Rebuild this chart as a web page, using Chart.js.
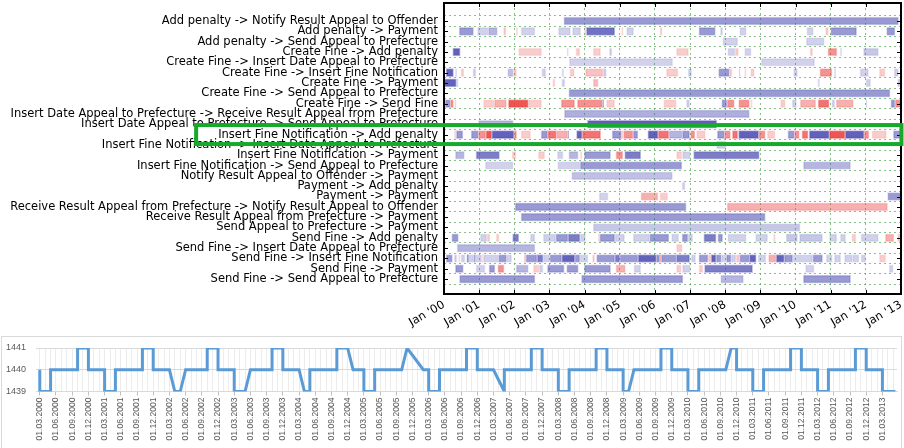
<!DOCTYPE html>
<html>
<head>
<meta charset="utf-8">
<script src="https://cdn.jsdelivr.net/npm/chart.js@4.4.0/dist/chart.umd.min.js"></script>
<style>
  html, body { margin: 0; padding: 0; background: #fff; }
  body { width: 904px; height: 448px; position: relative; overflow: hidden; }
  #timeline-box { position: absolute; left: 0; top: 0; width: 904px; height: 334px; }
  #minutes-box { position: absolute; left: 1px; top: 336px; width: 901px; height: 120px; border: 1px solid #d9d9d9; box-sizing: border-box; }
</style>
</head>
<body>
<div id="timeline-box"><canvas id="timeline-chart"></canvas></div>
<div id="minutes-box"><canvas id="minutes-chart"></canvas></div>
<script>
// Transition rows, top to bottom
const transitions = [
    'Add penalty -> Notify Result Appeal to Offender',
    'Add penalty -> Payment',
    'Add penalty -> Send Appeal to Prefecture',
    'Create Fine -> Add penalty',
    'Create Fine -> Insert Date Appeal to Prefecture',
    'Create Fine -> Insert Fine Notification',
    'Create Fine -> Payment',
    'Create Fine -> Send Appeal to Prefecture',
    'Create Fine -> Send Fine',
    'Insert Date Appeal to Prefecture -> Receive Result Appeal from Prefecture',
    'Insert Date Appeal to Prefecture -> Send Appeal to Prefecture',
    'Insert Fine Notification -> Add penalty',
    'Insert Fine Notification -> Insert Date Appeal to Prefecture',
    'Insert Fine Notification -> Payment',
    'Insert Fine Notification -> Send Appeal to Prefecture',
    'Notify Result Appeal to Offender -> Payment',
    'Payment -> Add penalty',
    'Payment -> Payment',
    'Receive Result Appeal from Prefecture -> Notify Result Appeal to Offender',
    'Receive Result Appeal from Prefecture -> Payment',
    'Send Appeal to Prefecture -> Payment',
    'Send Fine -> Add penalty',
    'Send Fine -> Insert Date Appeal to Prefecture',
    'Send Fine -> Insert Fine Notification',
    'Send Fine -> Payment',
    'Send Fine -> Send Appeal to Prefecture'
];
const highlightedTransition = 'Insert Fine Notification -> Add penalty';

// Per row: [from, to, level], times in years after Jan 2000.
// level > 0 is a blue span, level < 0 a red one, size 1..3 is the strength.
const transitionSpans = [
    [[3.41, 12.93, 2]],
    [[0.43, 0.84, 2], [0.95, 1.26, 1], [1.26, 1.52, 1.5], [1.69, 1.77, -1], [2.05, 2.10, -1], [2.19, 2.59, 1], [3.25, 3.60, 1], [3.65, 3.89, 1],
     [3.99, 4.05, -1], [4.05, 4.86, 2.7], [5.05, 5.10, -1], [5.19, 5.40, 1], [6.14, 6.21, -1], [7.25, 7.72, 2], [7.86, 7.93, 1], [8.41, 8.60, 1],
     [10.32, 10.51, 1], [10.85, 10.94, -1], [11.00, 11.74, 2], [12.59, 12.83, 2]],
    [[7.93, 8.36, 1], [10.30, 10.82, 1]],
    [[0.25, 0.46, 3], [2.12, 2.78, -1], [3.50, 3.54, 1], [3.75, 3.87, -1], [4.24, 4.46, -1], [4.70, 4.78, 1], [6.61, 6.96, -1], [8.07, 8.28, 1],
     [8.28, 8.38, -1], [8.55, 8.74, 1], [10.41, 10.49, -1], [10.92, 11.18, -2], [11.27, 11.32, 1], [11.93, 12.36, 1.2]],
    [[3.56, 6.51, 1], [9.02, 10.55, 1]],
    [[0.06, 0.27, 3], [0.32, 0.37, 1], [0.48, 0.57, -1], [0.82, 0.91, 1], [1.81, 1.97, 1.3], [1.97, 2.07, -1], [2.78, 2.90, 1], [3.35, 3.41, 1],
     [3.58, 3.71, -1], [4.02, 4.53, -1.2], [4.53, 4.62, 1], [6.32, 6.66, -1], [6.94, 7.05, 1], [7.81, 8.12, 2], [8.12, 8.20, -1], [8.39, 8.43, 1],
     [8.55, 8.60, -1], [8.72, 8.83, -1], [9.94, 10.06, 1], [10.69, 11.04, -2], [11.10, 11.15, 1], [11.83, 12.08, 1], [12.38, 12.55, -1], [12.80, 12.93, 1]],
    [[0.0, 0.35, 3], [0.35, 0.41, 1], [3.09, 3.16, -1], [3.35, 3.44, 1], [4.24, 4.39, -1.3], [10.63, 10.69, 1], [12.0, 12.14, 1], [12.90, 13.0, 1]],
    [[3.55, 12.69, 2]],
    [[0.03, 0.18, 2], [0.18, 0.27, -2], [0.30, 0.35, -1], [1.12, 1.43, -1], [1.43, 1.78, -1.5], [1.83, 2.40, -3], [2.40, 2.78, -1], [3.33, 3.72, -2],
     [3.79, 4.51, -2], [4.51, 4.55, 2], [4.62, 4.86, -1], [6.25, 6.61, -1], [6.89, 6.99, 1], [7.90, 8.05, 2], [8.05, 8.26, -2], [8.38, 8.69, -2],
     [8.72, 8.77, -1], [9.57, 9.71, -1], [9.90, 10.03, 1], [10.13, 10.58, -1.5], [10.64, 10.96, -2.5], [11.03, 11.12, 1], [11.15, 11.65, -1.5],
     [12.0, 12.03, 1], [12.71, 12.83, 2], [12.83, 13.0, -2]],
    [[3.42, 8.69, 1.6]],
    [[0.98, 1.97, 1.5], [4.08, 7.76, 3]],
    [[0.29, 0.35, -1], [0.35, 0.54, 2], [0.77, 0.98, 2], [0.98, 1.19, -2], [1.19, 1.36, -3], [1.36, 1.99, 3], [1.99, 2.07, -2], [2.19, 2.47, -1],
     [2.76, 2.95, 2], [2.95, 3.20, -2.5], [3.20, 3.52, -1.5], [3.52, 3.55, 2], [3.77, 3.93, 3], [3.93, 4.46, -2.5], [4.78, 5.05, 2], [5.05, 5.11, -1],
     [5.11, 5.38, -2], [5.38, 5.52, 2], [5.80, 6.09, 3], [6.09, 6.40, -2.5], [6.40, 6.78, 1.5], [6.78, 6.99, 2], [7.01, 7.14, -2], [7.18, 7.44, -1],
     [7.77, 7.98, 2], [7.98, 8.15, -2], [8.20, 8.36, -2.5], [8.38, 8.95, 3], [8.95, 9.14, -2], [9.19, 9.42, -1], [9.78, 9.97, 2], [9.97, 10.11, -2],
     [10.18, 10.36, -2.5], [10.39, 10.96, 3], [10.96, 11.41, -3], [11.41, 11.95, 3], [11.95, 12.09, -2], [12.17, 12.59, -1], [12.78, 13.0, 2]],
    [[6.96, 7.02, -1], [7.75, 8.03, 1]],
    [[0.32, 0.58, 1.5], [0.91, 1.58, 2.5], [1.93, 2.05, -1], [2.68, 2.87, -1], [3.22, 3.39, 1], [3.55, 3.82, 1.5], [3.87, 3.93, -1], [3.99, 4.74, 2],
     [4.89, 5.09, -2], [5.14, 5.60, 2.5], [6.61, 6.77, -1], [6.78, 7.01, 1], [7.10, 8.97, 2.5]],
    [[1.17, 1.97, 1], [3.23, 3.87, 1], [3.87, 6.77, 2], [10.22, 11.57, 1.5]],
    [[3.63, 6.50, 1.3]],
    [[6.77, 6.86, 1]],
    [[4.41, 4.67, 1], [5.60, 6.09, -1.5], [6.14, 6.37, -1], [12.62, 13.0, 2]],
    [[2.02, 6.89, 2], [8.05, 12.62, -1.5]],
    [[2.19, 9.14, 2]],
    [[4.24, 10.13, 1.2]],
    [[0.22, 0.41, 2], [1.03, 1.22, 1], [1.22, 1.31, -1], [1.48, 1.57, -1], [1.95, 2.13, 2.5], [2.45, 2.59, 1], [2.82, 3.18, 1], [3.18, 3.53, 2],
     [3.53, 3.87, 2.5], [3.87, 4.03, 1], [4.39, 4.43, -1], [4.43, 4.86, 2], [4.86, 5.14, 1], [5.38, 5.85, 1], [5.85, 6.40, 2], [6.47, 6.68, 1],
     [6.77, 6.94, 2], [6.94, 7.08, 1], [7.39, 7.74, 2.5], [7.79, 7.93, 2], [8.07, 8.60, 1], [8.86, 9.21, 1], [9.37, 9.43, -1], [9.73, 10.06, 1.2],
     [10.11, 10.77, 1.2], [10.96, 11.18, 1], [11.27, 11.43, 1], [11.60, 11.72, -1], [11.86, 12.36, 1], [12.55, 12.80, -1.5], [12.90, 13.0, -1]],
    [[0.37, 2.59, 1.5], [6.61, 6.78, -1]],
    [[0.06, 0.24, 2], [0.29, 0.37, 1], [0.41, 0.46, -1], [0.48, 0.60, 1], [0.65, 0.70, 3], [0.70, 0.84, 1], [0.84, 0.90, 2], [0.90, 1.07, 1],
     [1.07, 1.12, -1], [1.12, 1.55, 1], [1.55, 1.78, 2], [1.78, 1.93, 1], [2.28, 2.33, -1.5], [2.33, 2.65, 2], [2.65, 2.82, 2.5], [2.82, 3.01, 1],
     [3.01, 3.35, 2], [3.35, 3.72, 3], [3.72, 3.87, 2], [3.87, 4.10, 1], [4.22, 4.29, -1], [4.34, 4.86, 2], [4.86, 5.0, 2.5], [5.0, 5.52, 2],
     [5.52, 6.04, 3], [6.04, 6.14, 2], [6.14, 6.18, -2], [6.18, 6.61, 2], [6.61, 6.99, 2.5], [7.03, 7.16, 1], [7.25, 7.51, 2], [7.51, 7.60, -1],
     [7.60, 7.74, 3], [7.74, 7.89, 2], [7.89, 8.03, 1], [8.03, 8.17, 2], [8.17, 8.31, 1], [8.31, 8.41, -1], [8.41, 8.69, 2], [8.69, 8.88, 3],
     [8.93, 9.16, 1], [9.23, 9.45, -1.5], [9.45, 9.68, 3], [9.68, 9.92, 2], [9.92, 10.49, 1], [10.49, 10.77, 2], [10.87, 11.05, 1], [11.10, 11.29, 1],
     [11.39, 11.62, 1], [11.62, 11.81, 1], [11.86, 12.0, 1], [12.38, 12.57, -1]],
    [[0.32, 0.55, 2], [0.91, 1.17, 1], [1.28, 1.45, 2], [1.53, 1.71, -2], [2.05, 2.40, 1.5], [2.54, 2.71, -1], [2.71, 2.82, 1], [2.94, 3.42, 2],
     [3.49, 3.82, 2], [3.99, 4.74, 2], [4.89, 5.16, -1.5], [5.40, 5.60, 1], [6.61, 6.75, -1], [6.78, 7.01, 1], [7.25, 7.37, -1], [7.41, 8.78, 2.5],
     [10.28, 10.53, 1], [12.66, 12.78, 1]],
    [[0.44, 2.59, 2], [3.91, 6.80, 2], [7.87, 8.52, 1.5], [10.22, 11.57, 2]]
];
const yearTicks = [0, 1, 2, 3, 4, 5, 6, 7, 8, 9, 10, 11, 12, 13];

// Lower panel: months after 01.03.2000 and the value at each corner of the trace
const lengthMonths = [
    0, 0, 2, 2, 7, 7, 9, 9,
    12, 12, 14, 14, 19, 19, 21, 21,
    24, 25, 26, 27, 31, 31, 33, 33,
    36, 36, 38, 39, 43, 43, 45, 45,
    48, 49, 50, 50, 55, 55, 57, 58,
    60, 60, 62, 62, 67, 68, 71,
    72, 72, 74, 74, 79, 79, 81, 81,
    84, 86, 86, 91, 91, 93, 93,
    96, 96, 98, 98, 103, 103, 105, 105,
    108, 108, 109, 110, 115, 115, 117, 117,
    120, 120, 122, 122, 127, 128, 129, 129,
    132, 132, 134, 134, 139, 139, 141, 141,
    144, 144, 146, 146, 151, 151, 153, 153,
    156, 156, 158.4
];
const lengthValues = [
    1440, 1439, 1439, 1440, 1440, 1441, 1441, 1440,
    1440, 1439, 1439, 1440, 1440, 1441, 1441, 1440,
    1440, 1439, 1439, 1440, 1440, 1441, 1441, 1440,
    1440, 1439, 1439, 1440, 1440, 1441, 1441, 1440,
    1440, 1439, 1439, 1440, 1440, 1441, 1441, 1440,
    1440, 1439, 1439, 1440, 1440, 1441, 1440,
    1440, 1439, 1439, 1440, 1440, 1441, 1441, 1440,
    1440, 1439, 1440, 1440, 1441, 1441, 1440,
    1440, 1439, 1439, 1440, 1440, 1441, 1441, 1440,
    1440, 1439, 1439, 1440, 1440, 1441, 1441, 1440,
    1440, 1439, 1439, 1440, 1440, 1441, 1441, 1440,
    1440, 1439, 1439, 1440, 1440, 1441, 1441, 1440,
    1440, 1439, 1439, 1440, 1440, 1441, 1441, 1440,
    1440, 1439, 1439
];
const lengthTicks = [1439, 1440, 1441];

const LABEL_FONT = { family: 'DejaVu Sans', size: 11.5 };

function spanColor(level, fade) {
    const alpha = (0.25 + (Math.abs(level) - 1) * 0.3) * fade;
    return level > 0 ? `rgba(70, 70, 175, ${alpha})` : `rgba(235, 55, 55, ${alpha})`;
}

const spanPoints = [];
const spanLevels = [];
transitionSpans.forEach((spans, row) => {
    spans.forEach(([from, to, level]) => {
        spanPoints.push({ x: [from, to], y: row });
        spanLevels.push(level);
    });
});

// keep the plot box where the layout padding puts it, not where label overhang pushes it
function dropLabelPadding(s) {
    s.paddingLeft = 0;
    s.paddingRight = 0;
    s.paddingTop = 0;
    s.paddingBottom = 0;
}

// Inside tick marks, black frame and the green box round one row
const frameAndHighlight = {
    id: 'frameAndHighlight',
    afterDatasetsDraw(chart) {
        const { ctx, chartArea: a, scales: { x, y } } = chart;
        ctx.save();
        ctx.strokeStyle = '#000';
        ctx.lineWidth = 1;
        ctx.beginPath();
        transitions.forEach((_, i) => {
            const py = Math.round(y.getPixelForValue(i)) + 0.5;
            ctx.moveTo(a.left, py); ctx.lineTo(a.left + 4, py);
            ctx.moveTo(a.right, py); ctx.lineTo(a.right - 4, py);
        });
        yearTicks.forEach(v => {
            const px = Math.round(x.getPixelForValue(v)) + 0.5;
            ctx.moveTo(px, a.top); ctx.lineTo(px, a.top + 4);
            ctx.moveTo(px, a.bottom); ctx.lineTo(px, a.bottom - 4);
        });
        ctx.stroke();
        ctx.lineWidth = 2;
        ctx.strokeRect(a.left, a.top, a.right - a.left, a.bottom - a.top);

        const row = transitions.indexOf(highlightedTransition);
        const cy = y.getPixelForValue(row);
        ctx.font = `${LABEL_FONT.size}px "${LABEL_FONT.family}"`;
        const boxLeft = a.left - 6 - ctx.measureText(highlightedTransition).width - 22;
        ctx.strokeStyle = '#17a92b';
        ctx.lineWidth = 4;
        ctx.strokeRect(boxLeft, cy - 9.5, a.right + 0.5 - boxLeft, 19);
        ctx.restore();
    }
};

new Chart(document.getElementById('timeline-chart'), {
    type: 'bar',
    data: {
        datasets: [{
            data: spanPoints,
            backgroundColor: c => spanColor(spanLevels[c.dataIndex], 1),
            borderColor: c => spanColor(spanLevels[c.dataIndex], 0.45),
            borderWidth: 1,
            borderSkipped: false,
            barThickness: 8
        }]
    },
    options: {
        indexAxis: 'y',
        animation: false,
        responsive: true,
        maintainAspectRatio: false,
        devicePixelRatio: 1,
        layout: { padding: { top: 3, right: 3, left: 0, bottom: 0 } },
        plugins: { legend: { display: false }, tooltip: { enabled: false } },
        scales: {
            x: {
                type: 'linear',
                min: 0,
                max: 13,
                afterBuildTicks: s => { s.ticks = yearTicks.map(v => ({ value: v })); },
                afterFit: s => { s.height = 40; dropLabelPadding(s); },
                ticks: {
                    autoSkip: false,
                    minRotation: 30,
                    maxRotation: 30,
                    padding: 4,
                    color: '#000',
                    font: LABEL_FONT,
                    callback: v => "Jan '" + String(v).padStart(2, '0')
                },
                grid: { color: 'rgba(60, 150, 60, 0.6)', lineWidth: 1, drawTicks: false },
                border: { display: false, dash: [2, 3] }
            },
            y: {
                type: 'linear',
                reverse: true,
                min: -1.2,
                max: 25.9,
                afterBuildTicks: s => { s.ticks = transitions.map((_, i) => ({ value: i })); },
                afterFit: s => { s.width = 444; dropLabelPadding(s); },
                ticks: {
                    autoSkip: false,
                    padding: 6,
                    color: '#000',
                    font: LABEL_FONT,
                    callback: v => transitions[v]
                },
                grid: { color: 'rgba(60, 150, 60, 0.6)', lineWidth: 1, drawTicks: false },
                border: { display: false, dash: [2, 3] }
            }
        }
    },
    plugins: [frameAndHighlight]
});

function monthLabel(m) {
    const total = 2 + m;
    const month = String(total % 12 + 1).padStart(2, '0');
    return '01.' + month + '.' + (2000 + Math.floor(total / 12));
}

const monthTicks = [];
for (let m = 0; m <= 158; m++) monthTicks.push(m);

new Chart(document.getElementById('minutes-chart'), {
    type: 'line',
    data: {
        datasets: [{
            data: lengthMonths.map((m, i) => ({ x: m, y: lengthValues[i] })),
            borderColor: '#5b9bd5',
            borderWidth: 3,
            pointRadius: 0,
            tension: 0,
            fill: false
        }]
    },
    options: {
        animation: false,
        responsive: true,
        maintainAspectRatio: false,
        devicePixelRatio: 1,
        layout: { padding: { top: 11, right: 4, left: 0, bottom: 0 } },
        plugins: { legend: { display: false }, tooltip: { enabled: false } },
        scales: {
            x: {
                type: 'linear',
                min: -0.7,
                max: 158.7,
                afterBuildTicks: s => { s.ticks = monthTicks.map(v => ({ value: v })); },
                afterFit: s => { s.height = 63.5; dropLabelPadding(s); },
                ticks: {
                    autoSkip: false,
                    minRotation: 90,
                    maxRotation: 90,
                    padding: 2,
                    color: '#595959',
                    font: { family: 'Liberation Sans', size: 8.6 },
                    callback: v => (v % 3 === 0 ? monthLabel(v) : '')
                },
                grid: {
                    color: '#ececec',
                    tickLength: 4,
                    tickColor: c => (c.tick && c.tick.value % 3 === 0 ? '#bfbfbf' : 'rgba(0,0,0,0)')
                },
                border: { color: '#d9d9d9' }
            },
            y: {
                min: 1439,
                max: 1441,
                afterBuildTicks: s => { s.ticks = lengthTicks.map(v => ({ value: v })); },
                afterFit: s => { s.width = 34; dropLabelPadding(s); },
                ticks: {
                    padding: 10,
                    color: '#595959',
                    font: { family: 'Liberation Sans', size: 9 },
                    callback: v => String(v)
                },
                grid: { color: '#d9d9d9', drawTicks: false },
                border: { display: false }
            }
        }
    }
});
</script>
</body>
</html>
